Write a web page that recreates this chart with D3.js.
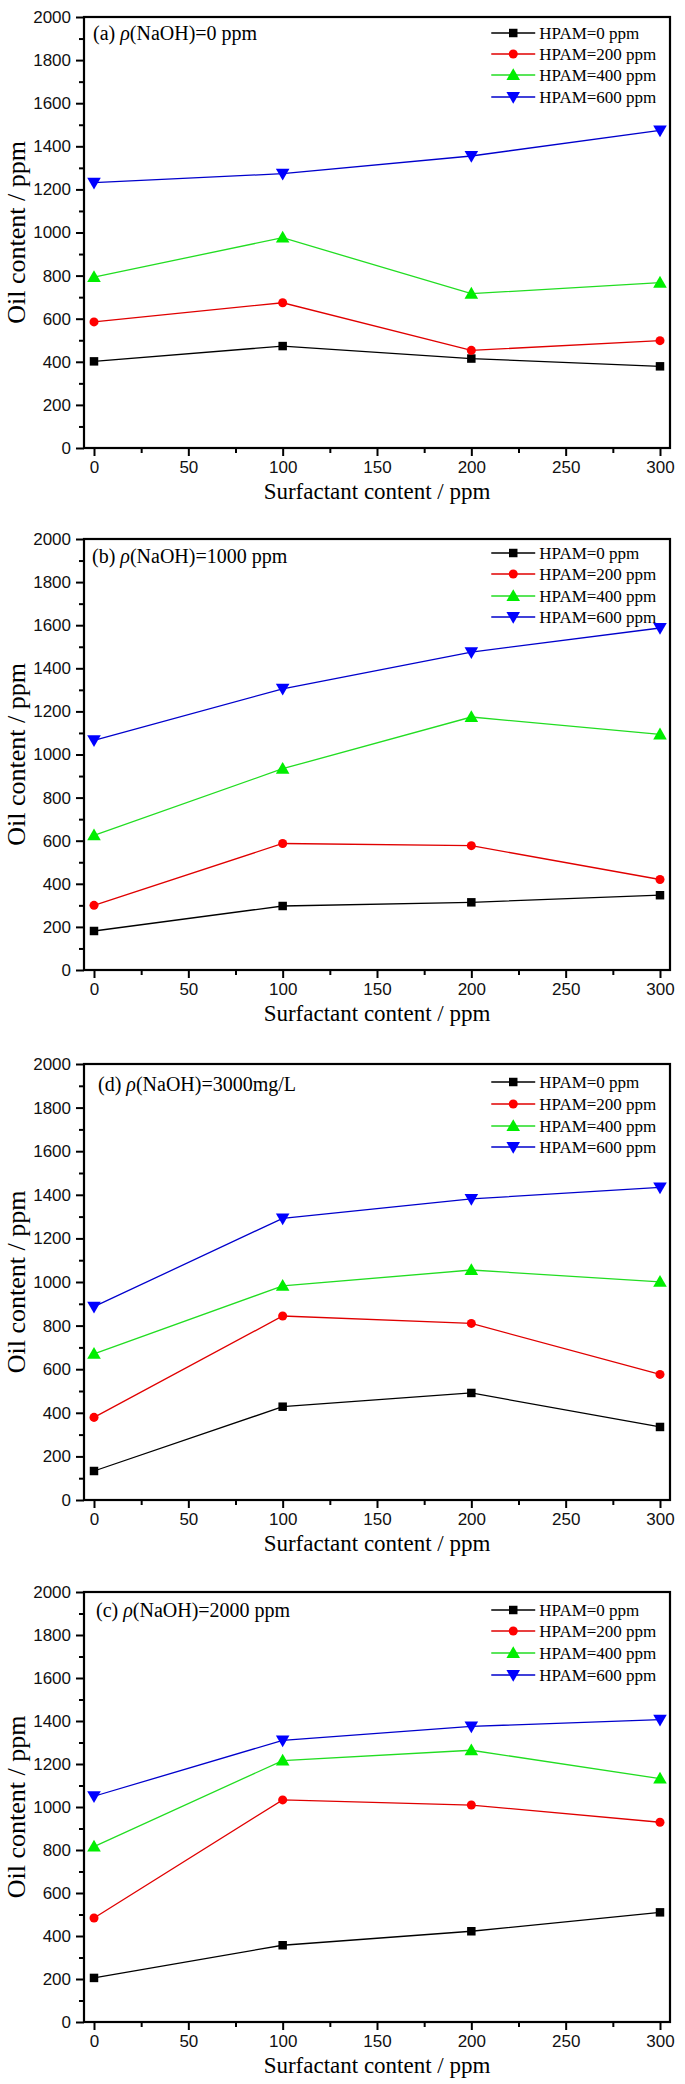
<!DOCTYPE html>
<html><head><meta charset="utf-8">
<script src="https://cdn.jsdelivr.net/npm/d3@7"></script>
<style>body{margin:0;background:#fff}svg{display:block}</style>
</head><body>
<svg id="chart" width="685" height="2084"></svg>
<script>
// ---- data ----
const surfactant = [0, 100, 200, 300];
const seriesNames = ["HPAM=0 ppm", "HPAM=200 ppm", "HPAM=400 ppm", "HPAM=600 ppm"];
const panelLabels = ["(a) ", "(b) ", "(d) ", "(c) "];
const panelConds = ["(NaOH)=0 ppm", "(NaOH)=1000 ppm", "(NaOH)=3000mg/L", "(NaOH)=2000 ppm"];
// panel (a) NaOH 0 ppm
const a_hpam0 = [402, 473, 415, 379];
const a_hpam200 = [585, 674, 453, 498];
const a_hpam400 = [793, 976, 716, 767];
const a_hpam600 = [1231, 1273, 1355, 1474];
// panel (b) NaOH 1000 ppm
const b_hpam0 = [181, 297, 314, 347];
const b_hpam200 = [300, 587, 577, 420];
const b_hpam400 = [625, 934, 1174, 1093];
const b_hpam600 = [1066, 1305, 1475, 1587];
// panel (d) NaOH 3000 mg/L
const d_hpam0 = [133, 428, 491, 335];
const d_hpam200 = [379, 844, 810, 576];
const d_hpam400 = [670, 982, 1055, 1001];
const d_hpam600 = [887, 1292, 1381, 1434];
// panel (c) NaOH 2000 ppm
const c_hpam0 = [205, 357, 422, 510];
const c_hpam200 = [484, 1033, 1009, 929];
const c_hpam400 = [816, 1216, 1264, 1132];
const c_hpam600 = [1050, 1310, 1375, 1406];
const xMajorTicks = [0, 50, 100, 150, 200, 250, 300];
const xMinorTicks = [25, 75, 125, 175, 225, 275];
const yMajorTicks = [0, 200, 400, 600, 800, 1000, 1200, 1400, 1600, 1800, 2000];
const yMinorTicks = [100, 300, 500, 700, 900, 1100, 1300, 1500, 1700, 1900];
const xTitle = "Surfactant content / ppm";
const yTitle = "Oil content / ppm";

const panelData = [
  [a_hpam0, a_hpam200, a_hpam400, a_hpam600],
  [b_hpam0, b_hpam200, b_hpam400, b_hpam600],
  [d_hpam0, d_hpam200, d_hpam400, d_hpam600],
  [c_hpam0, c_hpam200, c_hpam400, c_hpam600]
];

// ---- layout / style ----
const tops = [17, 539, 1064, 1592];
const bottoms = [448, 970, 1500, 2022];
const left = 84, right = 670;
const markerColors = ["#000000", "#ff0000", "#00ee00", "#0000ff"];
const lineColors = ["#000000", "#e00000", "#22dd22", "#0000cc"];
const symbols = [d3.symbolSquare, d3.symbolCircle, d3.symbolTriangle, d3.symbolTriangle];
const symSizes = [72, 64, 80, 80];
const symRot = [0, 0, 0, 180];
const annX = [9, 8, 14, 12];
const legOff = [[16, 37, 58, 80], [14, 35, 57, 78], [18, 40, 62, 83], [18, 39, 61, 83]];
const annOff = [17, 18, 21, 19];

const svg = d3.select("#chart");
const x = d3.scaleLinear().domain([-5.3, 305.3]).range([left, right]);

panelData.forEach((series, pi) => {
  const top = tops[pi], bottom = bottoms[pi];
  const y = d3.scaleLinear().domain([0, 2000]).range([bottom, top]);
  const g = svg.append("g");

  // ticks
  const xa = g.append("g").attr("transform", `translate(0,${bottom})`)
    .call(d3.axisBottom(x).tickValues(xMajorTicks).tickSize(8).tickPadding(5).tickFormat(d3.format("d")));
  const xm = g.append("g").attr("transform", `translate(0,${bottom})`)
    .call(d3.axisBottom(x).tickValues(xMinorTicks).tickSize(5).tickFormat(""));
  const ya = g.append("g").attr("transform", `translate(${left},0)`)
    .call(d3.axisLeft(y).tickValues(yMajorTicks).tickSize(8).tickPadding(5).tickFormat(d3.format("d")));
  const ym = g.append("g").attr("transform", `translate(${left},0)`)
    .call(d3.axisLeft(y).tickValues(yMinorTicks).tickSize(5).tickFormat(""));
  [xa, xm, ya, ym].forEach(ax => {
    ax.select(".domain").remove();
    ax.selectAll("line").attr("stroke", "#000").attr("stroke-width", 2);
    ax.selectAll("text").attr("font-family", "'Liberation Sans', Arial, sans-serif")
      .attr("font-size", 17).attr("fill", "#111");
  });

  // frame
  g.append("rect").attr("x", left).attr("y", top)
    .attr("width", right - left).attr("height", bottom - top)
    .attr("fill", "none").attr("stroke", "#000").attr("stroke-width", 2.2);

  // lines & markers
  const line = d3.line().x((d, i) => x(surfactant[i])).y(d => y(d));
  series.forEach((vals, si) => {
    g.append("path").datum(vals).attr("d", line)
      .attr("fill", "none").attr("stroke", lineColors[si]).attr("stroke-width", 1.3);
  });
  series.forEach((vals, si) => {
    const sym = d3.symbol().type(symbols[si]).size(symSizes[si]);
    g.selectAll(null).data(vals).enter().append("path")
      .attr("d", sym)
      .attr("transform", (d, i) => `translate(${x(surfactant[i])},${y(d) + (si === 2 ? 1 : (si === 3 ? -1 : 0))}) rotate(${symRot[si]})`)
      .attr("fill", markerColors[si]);
  });

  // annotation
  const ann = g.append("text").attr("x", left + annX[pi]).attr("y", top + annOff[pi] + 6)
    .attr("font-family", "'Liberation Serif', 'Times New Roman', serif").attr("font-size", 20).attr("fill", "#000");
  ann.append("tspan").text(panelLabels[pi]);
  ann.append("tspan").attr("font-style", "italic").text("ρ");
  ann.append("tspan").text(panelConds[pi]);

  // legend
  const lx0 = left + 0.695 * (right - left), lx1 = left + 0.77 * (right - left);
  seriesNames.forEach((name, si) => {
    const ly = top + legOff[pi][si];
    g.append("line").attr("x1", lx0).attr("x2", lx1).attr("y1", ly).attr("y2", ly)
      .attr("stroke", lineColors[si]).attr("stroke-width", 1.3);
    g.append("path").attr("d", d3.symbol().type(symbols[si]).size(symSizes[si]))
      .attr("transform", `translate(${(lx0 + lx1) / 2},${ly + (si === 2 ? 1 : (si === 3 ? -1 : 0))}) rotate(${symRot[si]})`)
      .attr("fill", markerColors[si]);
    g.append("text").attr("x", lx1 + 4).attr("y", ly + 6)
      .attr("font-family", "'Liberation Serif', 'Times New Roman', serif").attr("font-size", 17)
      .attr("fill", "#000").text(name);
  });

  // axis titles
  g.append("text").attr("x", (left + right) / 2).attr("y", bottom + 51)
    .attr("text-anchor", "middle")
    .attr("font-family", "'Liberation Serif', 'Times New Roman', serif").attr("font-size", 23)
    .attr("fill", "#000").text(xTitle);
  g.append("text").attr("transform", `translate(25,${(top + bottom) / 2}) rotate(-90)`)
    .attr("text-anchor", "middle")
    .attr("font-family", "'Liberation Serif', 'Times New Roman', serif").attr("font-size", 26)
    .attr("fill", "#000").text(yTitle);
});
</script>
</body></html>
